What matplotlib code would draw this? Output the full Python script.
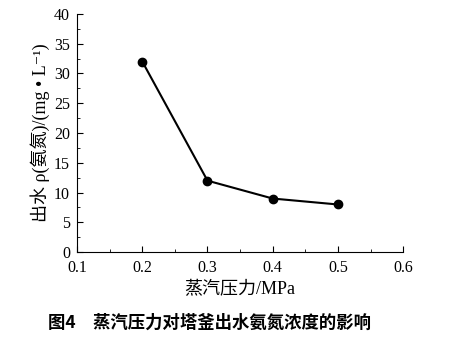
import matplotlib
matplotlib.use("Agg")
import matplotlib.pyplot as plt
from matplotlib.ticker import MultipleLocator

pressure = [0.2, 0.3, 0.4, 0.5]
ammonia = [32, 12, 9, 8]
xticks = [0.1, 0.2, 0.3, 0.4, 0.5, 0.6]
yticks = [0, 5, 10, 15, 20, 25, 30, 35, 40]

plt.rcParams['font.family'] = ['Liberation Serif', 'DejaVu Serif', 'Noto Sans CJK SC']

fig = plt.figure(figsize=(4.56, 3.38), dpi=100)
ax = fig.add_axes([0.169, 0.254, 0.715, 0.705])

ax.plot(pressure, ammonia, color='black', linewidth=1.5, marker='o', markersize=6)

ax.set_xlim(0.1, 0.6)
ax.set_ylim(0, 40)
ax.set_xticks(xticks)
ax.set_yticks(yticks)
ax.xaxis.set_minor_locator(MultipleLocator(0.05))
ax.yaxis.set_minor_locator(MultipleLocator(2.5))
ax.tick_params(direction='in', which='major', length=4, labelsize=11.5, pad=5)
ax.tick_params(axis='x', which='major', pad=6)
ax.tick_params(direction='in', which='minor', length=2)
ax.spines['top'].set_visible(False)
ax.spines['right'].set_visible(False)

ax.set_xlabel('蒸汽压力/MPa', fontsize=13, labelpad=3)
ax.set_ylabel('出水 ρ(氨氮)/(mg • L⁻¹)', fontsize=13, labelpad=3)

fig.text(0.46, 0.03, '图4　蒸汽压力对塔釜出水氨氮浓度的影响', ha='center', fontsize=12.5,
         fontweight='bold', family=['Noto Sans CJK SC', 'DejaVu Sans'])

fig.savefig('out.png', dpi=100)
